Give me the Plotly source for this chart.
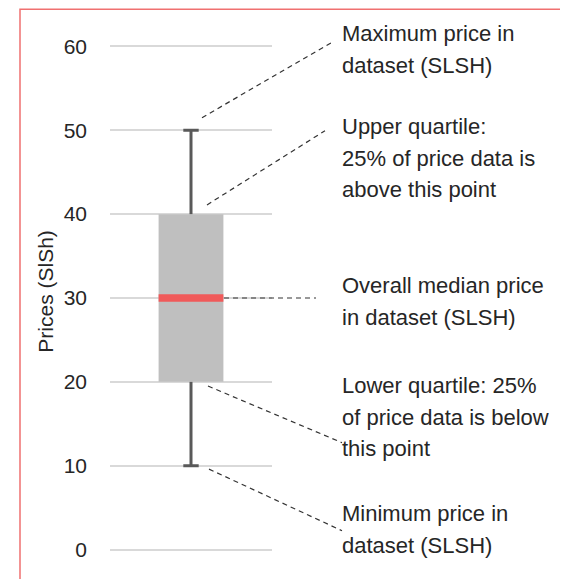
import plotly.graph_objects as go

# box plot summary (SLSH)
price_min = 10
price_q1 = 20
price_median = 30
price_q3 = 40
price_max = 50

y_ticks = [0, 10, 20, 30, 40, 50, 60]

note_lines = [
    ["Maximum price in", "dataset (SLSH)"],
    ["Upper quartile:", "25% of price data is", "above this point"],
    ["Overall median price", "in dataset (SLSH)"],
    ["Lower quartile: 25%", "of price data is below", "this point"],
    ["Minimum price in", "dataset (SLSH)"],
]
# vertical centre of each note block, in page pixels
note_center_px = [50, 158.7, 302, 417.5, 530]

FONT = "Liberation Sans, Arial, sans-serif"
TXT = "#262626"
LINE_PX = 31.5

Y_RANGE = [-1, 61]
BOX_X = 0.5
BOX_W = 0.4

# page layout (the html body adds an 8px margin)
PAGE_OFF = 8
W, H = 568 - PAGE_OFF, 579 - PAGE_OFF
L_PX, R_PX = 110, 272          # plot area, page pixels
T_PX, B_PX = 38.3, 558.3


def px(x):
    return (x - L_PX) / (R_PX - L_PX)


def pyp(p):
    return (B_PX - p) / (B_PX - T_PX)


def py(v):
    return (v - Y_RANGE[0]) / (Y_RANGE[1] - Y_RANGE[0])


fig = go.Figure()

# the box itself (q1 -> q3)
fig.add_trace(go.Bar(
    x=[BOX_X], y=[price_q3 - price_q1], base=[price_q1],
    width=BOX_W, marker=dict(color="#bfbfbf", line=dict(width=0)),
    hoverinfo="skip",
))

# whiskers
fig.add_trace(go.Scatter(
    x=[BOX_X, BOX_X, None, BOX_X, BOX_X],
    y=[price_q3, price_max, None, price_q1, price_min],
    mode="lines", line=dict(color="#595959", width=3),
    hoverinfo="skip",
))
fig.add_trace(go.Scatter(
    x=[BOX_X, BOX_X], y=[price_max, price_min], mode="markers",
    marker=dict(symbol="line-ew", size=11, line=dict(color="#595959", width=3)),
    hoverinfo="skip",
))

# median
fig.add_trace(go.Scatter(
    x=[BOX_X - BOX_W / 2, BOX_X + BOX_W / 2], y=[price_median, price_median],
    mode="lines", line=dict(color="#f05a5a", width=7.5),
    hoverinfo="skip",
))

# dashed leader lines: (x0 px, y0 value, x1 px, y1 page px)
leaders = [
    (202, price_max + 1.5, 333, 42),
    (207, price_q3 + 1.1, 325, 131),
    (224, price_median, 316, None),
    (208, price_q1 - 0.5, 342, 443),
    (209, price_min - 0.4, 342, 531),
]
for x0, y0, x1, y1 in leaders:
    fig.add_shape(
        type="line", xref="paper", yref="paper",
        x0=px(x0), y0=py(y0), x1=px(x1),
        y1=py(y0) if y1 is None else pyp(y1),
        line=dict(color="#333333", width=1.2, dash="5px,4px"),
    )

for lines, yc in zip(note_lines, note_center_px):
    n = len(lines)
    for j, line in enumerate(lines):
        fig.add_annotation(
            text=line, xref="paper", yref="paper",
            x=px(340), y=pyp(yc + (j - (n - 1) / 2) * LINE_PX),
            xanchor="left", yanchor="middle", align="left", showarrow=False,
            font=dict(family=FONT, size=22, color=TXT),
        )

fig.add_annotation(
    text="Prices (SlSh)", xref="paper", yref="paper", x=px(46), y=pyp(292),
    textangle=-90, showarrow=False, xanchor="center", yanchor="middle",
    font=dict(family=FONT, size=21, color=TXT),
)

# red frame (open at the bottom, like the cropped original)
frame_x = [20, 20, 562, 562]
frame_y = [585, 9.5, 9.5, 585]
fig.add_shape(
    type="path", xref="paper", yref="paper",
    path="M " + " L ".join(
        f"{px(a)},{pyp(b)}" for a, b in zip(frame_x, frame_y)),
    line=dict(color="#f07070", width=1.5), layer="above",
)

fig.update_layout(
    width=W, height=H,
    margin=dict(l=L_PX - PAGE_OFF, r=W - (R_PX - PAGE_OFF),
                t=T_PX - PAGE_OFF, b=H - (B_PX - PAGE_OFF)),
    plot_bgcolor="white", paper_bgcolor="white",
    showlegend=False,
    font=dict(family=FONT, color=TXT),
    xaxis=dict(range=[0, 1], showgrid=False, zeroline=False,
               showticklabels=False, showline=False, fixedrange=True),
    yaxis=dict(range=Y_RANGE, tickvals=y_ticks, showgrid=True,
               gridcolor="#d9d9d9", gridwidth=1.5, zeroline=False,
               showline=False, ticks="", ticklabelstandoff=22,
               tickfont=dict(family=FONT, size=21, color=TXT)),
)

fig.write_html("out.html")
